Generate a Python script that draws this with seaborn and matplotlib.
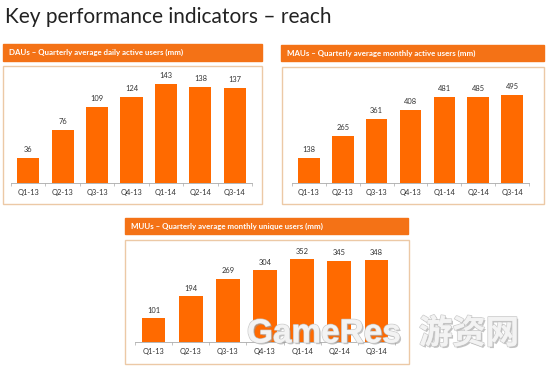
import numpy as np
import pandas as pd
import matplotlib
matplotlib.use('Agg')
import matplotlib.pyplot as plt
import matplotlib.patheffects as pe
import seaborn as sns
from matplotlib.patches import Rectangle
from matplotlib.ticker import FixedLocator

# Quarter labels and values
quarters = ['Q1-13', 'Q2-13', 'Q3-13', 'Q4-13', 'Q1-14', 'Q2-14', 'Q3-14']
dau = [36, 76, 109, 124, 143, 138, 137]
mau = [138, 265, 361, 408, 481, 485, 495]
muu = [101, 194, 269, 304, 352, 345, 348]

titles = {
    'DAU': 'DAUs – Quarterly average daily active users (mm)',
    'MAU': 'MAUs – Quarterly average monthly active users (mm)',
    'MUU': 'MUUs – Quarterly average monthly unique users (mm)',
}

sns.set_style('white')
plt.rcParams['font.family'] = ['Lato', 'DejaVu Sans']

BAR = '#ff6a00'
HEAD = '#f47216'
EDGE = '#ecc9a6'

W, H = 550, 370
fig = plt.figure(figsize=(W / 100, H / 100), dpi=100)


def px(x0, y0, x1, y1):
    # pixel box (top-left origin) -> figure fraction rect
    return [x0 / W, 1 - y1 / H, (x1 - x0) / W, (y1 - y0) / H]


def panel(key, values, box, head, axbox, ymax):
    # header bar
    fig.patches.append(Rectangle((head[0] / W, 1 - head[3] / H),
                                 (head[2] - head[0]) / W, (head[3] - head[1]) / H,
                                 transform=fig.transFigure, color=HEAD, zorder=-2))
    fig.text((head[0] + 6) / W, 1 - (head[1] + head[3]) / 2 / H, titles[key],
             color='white', fontsize=5.7, fontweight='bold', va='center', ha='left')
    # box outline
    fig.patches.append(Rectangle((box[0] / W, 1 - box[3] / H),
                                 (box[2] - box[0]) / W, (box[3] - box[1]) / H,
                                 transform=fig.transFigure, facecolor='none',
                                 edgecolor=EDGE, lw=1.0, zorder=-2))
    ax = fig.add_axes(px(*axbox))
    ax.patch.set_alpha(0)
    df = pd.DataFrame({'q': quarters, 'v': values})
    sns.barplot(data=df, x='q', y='v', color=BAR, width=0.64, ax=ax,
                saturation=1, edgecolor='none')
    ax.set_ylim(0, ymax)
    ax.set_xlim(-0.5, len(quarters) - 0.5)
    for i, v in enumerate(values):
        ax.text(i, v + ymax * 0.045, str(v), ha='center', va='bottom',
                fontsize=5.4, color='#333333')
    for s in ['top', 'right', 'left']:
        ax.spines[s].set_visible(False)
    ax.spines['bottom'].set_color('#aaaaaa')
    ax.spines['bottom'].set_linewidth(0.6)
    ax.set_yticks([])
    ax.set_xlabel('')
    ax.set_ylabel('')
    ax.tick_params(axis='x', length=0, labelsize=5.4, labelcolor='#333333', pad=4)
    ax.xaxis.set_minor_locator(FixedLocator(np.arange(-0.5, len(quarters), 1.0)))
    ax.tick_params(axis='x', which='minor', length=2, width=0.5, color='#aaaaaa',
                   direction='out', bottom=True)
    return ax


panel('DAU', dau, box=(3, 66, 262, 204), head=(3, 44, 262, 61),
      axbox=(11, 70, 252, 183), ymax=163)
panel('MAU', mau, box=(282, 67, 544, 204), head=(281, 45, 544, 61),
      axbox=(292, 70, 529, 183), ymax=635)
panel('MUU', muu, box=(125, 240, 409, 364), head=(125, 218, 408, 234),
      axbox=(135, 245, 395, 342), ymax=411)

fig.text(5 / W, 1 - 17 / H, 'Key performance indicators – reach', fontsize=15,
         color='#222222', va='center', ha='left')

# watermark seen on the source image
wm_fx = [pe.withSimplePatchShadow(offset=(1.2, -1.2), shadow_rgbFace='#9a9a9a', alpha=0.6),
         pe.withStroke(linewidth=1.2, foreground='#c4c4c4'), pe.Normal()]
t1 = fig.text(247 / W, 1 - 334 / H, 'GameRes', fontsize=24, fontweight='bold',
              color='#f4f4f4', va='center', ha='left', family=['Liberation Sans'])
t2 = fig.text(419 / W, 1 - 334 / H, '游资网', fontsize=24, fontweight='bold',
              color='#f4f4f4', va='center', ha='left',
              family=['Noto Sans CJK SC', 'DejaVu Sans'])
for t in (t1, t2):
    t.set_path_effects(wm_fx)
    t.set_alpha(0.85)

fig.savefig('out.png', dpi=100)
